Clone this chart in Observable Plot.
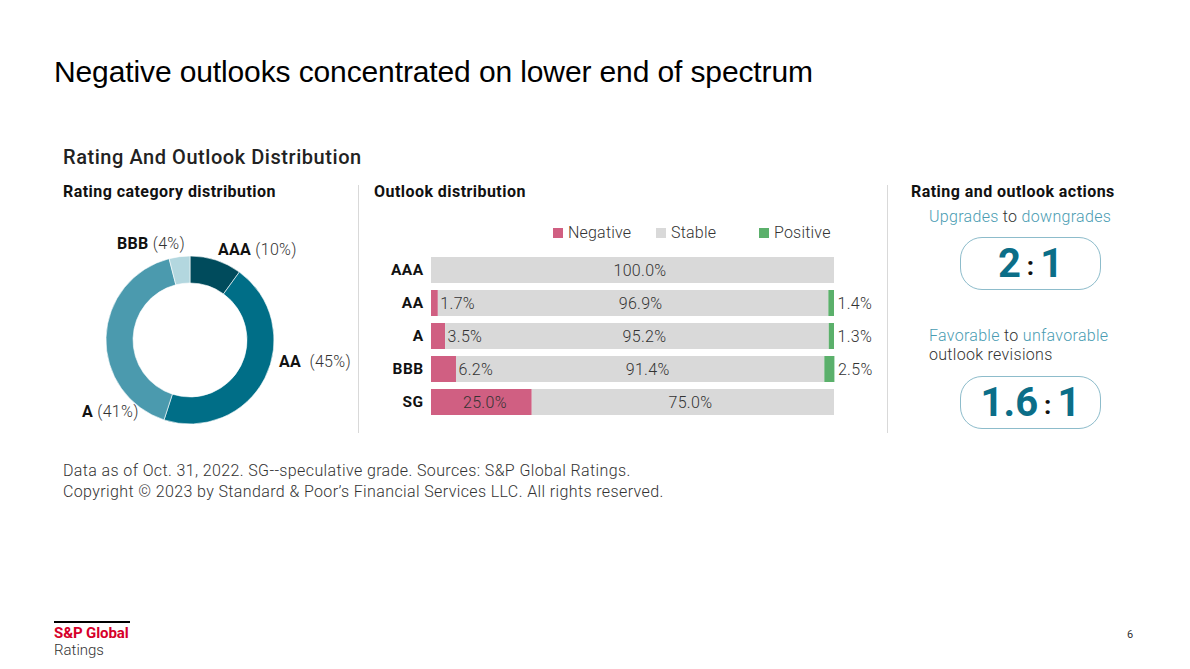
<!DOCTYPE html>
<html>
<head>
<meta charset="utf-8">
<script src="https://cdn.jsdelivr.net/npm/d3@7"></script>
<script src="https://cdn.jsdelivr.net/npm/@observablehq/plot@0.6"></script>
<style>
  html, body { margin: 0; padding: 0; background: #fff; }
  body { width: 1190px; height: 669px; position: relative; overflow: hidden; font-family: Roboto, "Noto Sans", sans-serif; color: #222; }
  .abs { position: absolute; white-space: nowrap; }
  #title { left: 54px; top: 55px; font-family: "Liberation Sans", Arial, sans-serif; font-size: 30px; color: #000; letter-spacing: -0.12px; }
  #sub { left: 63px; top: 145px; font-size: 20px; font-weight: 500; color: #222; letter-spacing: 0.55px; }
  .head { font-size: 16px; font-weight: 700; color: #111; letter-spacing: 0.45px; }
  .vline { position: absolute; width: 1px; background: #d9d9d9; }
  .lbl { font-size: 16px; font-weight: 300; color: #333; letter-spacing: 0.3px; }
  .lbl b { font-weight: 700; color: #111; }
  .legend { font-size: 16px; font-weight: 300; color: #333; display: flex; align-items: center; letter-spacing: 0.2px; }
  .sw { display: inline-block; width: 10px; height: 10px; margin-right: 5px; }
  .teal { color: #4a9cb2; }
  .box { position: absolute; left: 960px; width: 139px; height: 51px; border: 1.5px solid #8dbccb; border-radius: 22px; display: flex; align-items: center; justify-content: center; }
  .big { font-size: 40px; font-weight: 700; color: #0b6e88; letter-spacing: 0; }
  .colon { font-size: 26px; font-weight: 700; color: #111; margin: 0 6px; position: relative; top: 2px; }
  .foot { font-size: 16px; font-weight: 300; color: #333; letter-spacing: 0.38px; }
  #bars g[aria-label^="y-axis"] text { font-weight: 700; font-size: 15.5px; fill: #111; letter-spacing: 0.4px; }
  #bars g[aria-label="text"] text { letter-spacing: 0.3px; }
</style>
</head>
<body>
<div id="title" class="abs">Negative outlooks concentrated on lower end of spectrum</div>
<div id="sub" class="abs">Rating And Outlook Distribution</div>
<div class="abs head" style="left:63px; top:182px;">Rating category distribution</div>
<div class="abs head" style="left:374px; top:182px;">Outlook distribution</div>
<div class="abs head" style="left:911px; top:182px;">Rating and outlook actions</div>
<div class="vline" style="left:358px; top:185px; height:248px;"></div>
<div class="vline" style="left:887px; top:185px; height:248px;"></div>

<div id="donut" class="abs" style="left:40px; top:220px;"></div>
<div id="donutLabels"></div>

<div id="legend"></div>
<div id="bars" class="abs" style="left:370px; top:250px;"></div>

<div class="abs lbl" style="left:929px; top:207px;"><span class="teal">Upgrades</span> to <span class="teal">downgrades</span></div>
<div class="box" style="top:237px;"><span class="big">2</span><span class="colon">:</span><span class="big">1</span></div>
<div class="abs lbl" style="left:929px; top:326px; line-height:19px;"><span class="teal">Favorable</span> to <span class="teal">unfavorable</span><br>outlook revisions</div>
<div class="box" style="top:376px;"><span class="big">1.6</span><span class="colon">:</span><span class="big">1</span></div>

<div class="abs foot" style="left:63px; top:460px; line-height:21px;">Data as of Oct. 31, 2022. SG--speculative grade. Sources: S&amp;P Global Ratings.<br>Copyright © 2023 by Standard &amp; Poor’s Financial Services LLC. All rights reserved.</div>

<div class="abs" style="left:54px; top:621px; width:76px; height:2px; background:#000;"></div>
<div class="abs" style="left:54px; top:624px; font-size:15px; font-weight:700; color:#d6002a; letter-spacing:-0.1px;">S&amp;P Global</div>
<div class="abs" style="left:54px; top:641px; font-size:15px; font-weight:300; color:#333;">Ratings</div>
<div class="abs" style="left:1127px; top:628px; font-size:11px; color:#333;">6</div>

<script>
// ---- Data ----
const ratingCategories = ["AAA", "AA", "A", "BBB"];
const ratingShares = [10, 45, 41, 4];
const ratingColors = ["#004b5c", "#006e87", "#4b9aae", "#b3d7df"];

const outlookCategories = ["AAA", "AA", "A", "BBB", "SG"];
const negativeValues = [0, 1.7, 3.5, 6.2, 25.0];
const stableValues = [100.0, 96.9, 95.2, 91.4, 75.0];
const positiveValues = [0, 1.4, 1.3, 2.5, 0];
const outlookNames = ["Negative", "Stable", "Positive"];
const outlookColors = ["#d05f82", "#d9d9d9", "#5bb06b"];

// ---- Donut ----
const shares = ratingCategories.map((name, i) => ({name, value: ratingShares[i]}));
const donutW = 300, donutH = 240, rOuter = 84, rInner = 57;
function donutMark(index, scales, values, dimensions) {
  const color = scales.color;
  const g = d3.create("svg:g")
    .attr("transform", `translate(${dimensions.width / 2},${dimensions.height / 2})`);
  const arcs = d3.pie().sort(null).value(d => d.value)(shares);
  const arc = d3.arc().innerRadius(rInner).outerRadius(rOuter);
  g.selectAll("path").data(arcs).join("path")
    .attr("d", arc)
    .attr("fill", d => color(d.data.name))
    .attr("stroke", "#fff").attr("stroke-width", 0.6);
  return g.node();
}
const donut = Plot.plot({
  width: donutW, height: donutH, margin: 0,
  x: {axis: null}, y: {axis: null},
  color: {domain: ratingCategories, range: ratingColors},
  marks: [
    Plot.dot(shares, {fill: "name", r: 0}),
    donutMark
  ]
});
document.getElementById("donut").append(donut);

// donut annotations (text boxes beside the ring)
const labelPlaces = {AAA: [218, 240], AA: [279, 352], A: [82, 402], BBB: [117, 234]};
const dl = document.getElementById("donutLabels");
shares.forEach(d => {
  const el = document.createElement("div");
  el.className = "abs lbl";
  el.style.left = labelPlaces[d.name][0] + "px";
  el.style.top = labelPlaces[d.name][1] + "px";
  el.innerHTML = `<b>${d.name}</b>${d.name === "AA" ? "&nbsp;&nbsp;" : " "}(${d.value}%)`;
  dl.append(el);
});

// ---- Legend ----
const legendX = [553, 656, 759];
const lg = document.getElementById("legend");
outlookNames.forEach((n, i) => {
  const el = document.createElement("div");
  el.className = "abs legend";
  el.style.left = legendX[i] + "px";
  el.style.top = "223px";
  el.innerHTML = `<span class="sw" style="background:${outlookColors[i]}"></span>${n}`;
  lg.append(el);
});

// ---- Outlook bars ----
const rows = outlookCategories.map((cat, i) => ({
  cat, neg: negativeValues[i], sta: stableValues[i], pos: positiveValues[i]
}));
const tidy = rows.flatMap(r => [
  {cat: r.cat, outlook: "Negative", value: r.neg},
  {cat: r.cat, outlook: "Stable", value: r.sta},
  {cat: r.cat, outlook: "Positive", value: r.pos}
]).filter(d => d.value > 0);
const fmt = v => v.toFixed(1) + "%";
const txt = {fontSize: 16, fill: "#333", fontWeight: 300};

const bars = Plot.plot({
  width: 520, height: 172,
  marginLeft: 61, marginRight: 56, marginTop: 3.5, marginBottom: 3.5,
  style: {fontFamily: "Roboto, sans-serif", fontSize: "15px", background: "transparent"},
  x: {domain: [0, 100], axis: null},
  y: {domain: outlookCategories, paddingInner: 0.2, paddingOuter: 0.1, tickSize: 0, tickPadding: 8, label: null},
  color: {domain: outlookNames, range: outlookColors},
  marks: [
    Plot.barX(tidy, Plot.stackX({x: "value", y: "cat", fill: "outlook", order: outlookNames})),
    Plot.text(rows, {x: d => d.neg + d.sta / 2, y: "cat", text: d => fmt(d.sta), dx: 7, ...txt}),
    Plot.text(rows.filter(d => d.neg > 0 && d.neg < 10), {x: "neg", y: "cat", text: d => fmt(d.neg), textAnchor: "start", dx: 2, ...txt}),
    Plot.text(rows.filter(d => d.neg >= 10), {x: d => d.neg / 2, y: "cat", text: d => fmt(d.neg), dx: 3, ...txt}),
    Plot.text(rows.filter(d => d.pos > 0), {x: d => d.neg + d.sta + d.pos, y: "cat", text: d => fmt(d.pos), textAnchor: "start", dx: 3, ...txt})
  ]
});
document.getElementById("bars").append(bars);
</script>
</body>
</html>
